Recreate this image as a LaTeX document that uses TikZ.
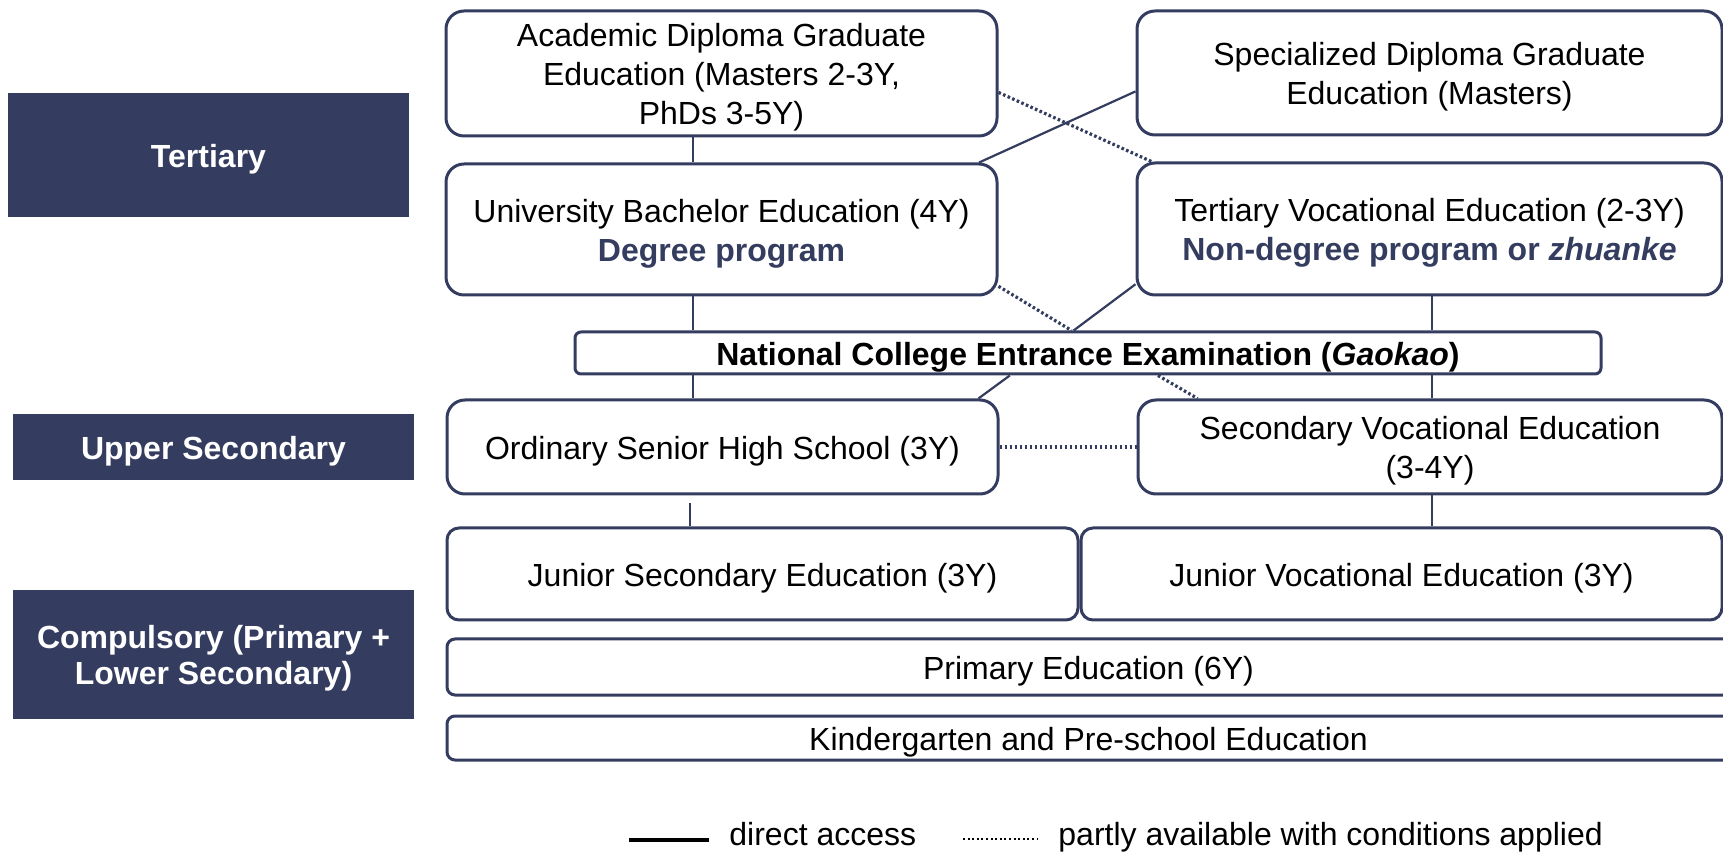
\documentclass[tikz,border=0pt]{standalone}
\usepackage{fontspec}
\setmainfont{Liberation Sans}
\usetikzlibrary{calc}
\definecolor{navy}{RGB}{52,61,95}
\begin{document}
\begin{tikzpicture}[x=0.5pt,y=-0.5pt,
  box/.style={draw=navy, line width=1.5pt, rounded corners=9pt, fill=white, inner sep=0pt},
  flat/.style={box, rounded corners=4pt},
  mid/.style={box, rounded corners=6pt},
  lab/.style={fill=navy, inner sep=0pt},
  tx/.style={inner sep=0pt, align=center, font=\fontsize{16}{19.5}\selectfont},
  ltx/.style={tx, text=white, font=\fontsize{16}{18}\selectfont\bfseries},
  conn/.style={draw=navy, line width=1.1pt},
  dots/.style={draw=navy, line width=1.6pt, dash pattern=on 1.3pt off 1.2pt}
]
\useasboundingbox (0,0) rectangle (1723,854);
\clip (0,0) rectangle (1723,854);

% level labels
\node[lab, minimum width=200.5pt, minimum height=62pt] (ter) at (208.5,155) {};
\node[lab, minimum width=200.5pt, minimum height=33pt] (ups) at (213.5,447) {};
\node[lab, minimum width=200.5pt, minimum height=64.5pt] (cmp) at (213.5,654.5) {};
\node[ltx] (tert) at ($(ter.center)+(0,4)$) {Tertiary};
\node[ltx] (upst) at ($(ups.center)+(0,4)$) {Upper Secondary};
\node[ltx] (cmpt) at ($(cmp.center)+(0,4)$) {Compulsory (Primary +\\Lower Secondary)};

% boxes
\node[box, minimum width=275.5pt, minimum height=62.5pt] (acad) at (721.5,73.5) {};
\node[box, minimum width=292.5pt, minimum height=62pt] (spec) at (1429.5,73) {};
\node[box, minimum width=275.5pt, minimum height=65.5pt] (ub) at (721.5,229.5) {};
\node[box, minimum width=292.5pt, minimum height=66pt] (tv) at (1429.5,229) {};
\node[box, rounded corners=3pt, minimum width=513pt, minimum height=21pt] (gk) at (1088,353) {};
\node[box, minimum width=275.5pt, minimum height=47pt] (osh) at (722.5,447) {};
\node[box, minimum width=292pt, minimum height=47pt] (sve) at (1430,447) {};
\node[mid, minimum width=315.5pt, minimum height=46pt] (jse) at (762.5,574) {};
\node[mid, minimum width=320.5pt, minimum height=46pt] (jve) at (1401.5,574) {};
\node[flat, minimum width=646.5pt, minimum height=28pt] (pri) at (1093.5,667) {};
\node[flat, minimum width=646.5pt, minimum height=22pt] (kin) at (1093.5,738) {};

% box texts
\node[tx] (acadt) at ($(acad.center)+(0,4)$) {Academic Diploma Graduate\\Education (Masters 2-3Y,\\PhDs 3-5Y)};
\node[tx] (spect) at ($(spec.center)+(0,4)$) {Specialized Diploma Graduate\\Education (Masters)};
\node[tx] (ubt) at ($(ub.center)+(0,4)$) {University Bachelor Education (4Y)\\{\color{navy}\bfseries Degree program}};
\node[tx] (tvt) at ($(tv.center)+(0,4)$) {Tertiary Vocational Education (2-3Y)\\{\color{navy}\bfseries Non-degree program or \textit{zhuanke}}};
\node[tx] (gkt) at ($(gk.center)+(0,4)$) {\bfseries National College Entrance Examination (\textit{Gaokao})};
\node[tx] (osht) at ($(osh.center)+(0,4)$) {Ordinary Senior High School (3Y)};
\node[tx] (svet) at ($(sve.center)+(0,4)$) {Secondary Vocational Education\\(3-4Y)};
\node[tx] (jset) at ($(jse.center)+(0,4)$) {Junior Secondary Education (3Y)};
\node[tx] (jvet) at ($(jve.center)+(0,4)$) {Junior Vocational Education (3Y)};
\node[tx] (prit) at ($(pri.center)+(-5,4)$) {Primary Education (6Y)};
\node[tx] (kint) at ($(kin.center)+(-5,4)$) {Kindergarten and Pre-school Education};

% connectors
\coordinate (xl) at (693,0);
\coordinate (xr) at (1432,0);
\draw[conn] (acad.south -| xl) -- (ub.north -| xl);
\draw[conn] (ub.south -| xl) -- (gk.north -| xl);
\draw[conn] (gk.south -| xl) -- (osh.north -| xl);
\draw[conn] ($(osh.south -| xl)+(-3,8)$) -- ($(jse.north -| xl)+(-3,0)$);
\draw[conn] (tv.south -| xr) -- (gk.north -| xr);
\draw[conn] (gk.south -| xr) -- (sve.north -| xr);
\draw[conn] (sve.south -| xr) -- (jve.north -| xr);

\draw[conn] ($(ub.north west)!0.965!(ub.north east)$) -- ($(spec.north west)!0.645!(spec.south west)$);
\draw[dots] ($(acad.north east)!0.648!(acad.south east)$) -- ($(tv.north west)!0.027!(tv.north east)$);
\draw[dots] ($(ub.north east)!0.924!(ub.south east)$) -- ($(gk.north west)!0.484!(gk.north east)$);
\draw[conn] ($(tv.north west)!0.909!(tv.south west)$) -- ($(gk.north west)!0.486!(gk.north east)$);
\draw[conn] ($(gk.south west)!0.424!(gk.south east)$) -- ($(osh.north west)!0.962!(osh.north east)$);
\draw[dots] ($(gk.south west)!0.568!(gk.south east)$) -- ($(sve.north west)!0.104!(sve.north east)$);
\draw[dots] (osh.east) -- (sve.west);

% legend
\coordinate (la) at (629,840);
\coordinate (lb) at (709,840);
\coordinate (lc) at (963,839);
\coordinate (ld) at (1037,839);
\draw[line width=2pt] (la) -- (lb);
\draw[line width=1.3pt, dash pattern=on 1pt off 1.3pt] (lc) -- (ld);
\node[anchor=base west, inner sep=0pt, font=\fontsize{16}{19}\selectfont] (lt1) at (729,845) {direct access};
\node[anchor=base west, inner sep=0pt, font=\fontsize{16}{19}\selectfont] (lt2) at (1058,845) {partly available with conditions applied};
\end{tikzpicture}
\end{document}
